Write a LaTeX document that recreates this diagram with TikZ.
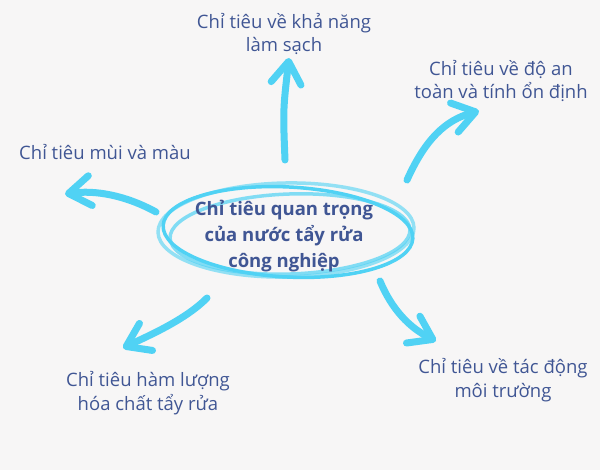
\documentclass[tikz,border=0pt]{standalone}
\usepackage{fontspec}
\setmainfont{Open Sans}
\usetikzlibrary{arrows.meta}
\definecolor{bgcol}{RGB}{247,246,246}
\definecolor{txtcol}{RGB}{64,86,148}
\definecolor{arrcol}{RGB}{80,210,244}
\tikzstyle{crit}=[text=txtcol,align=center,font=\fontsize{18.5}{23.5}\selectfont]
\tikzstyle{topic}=[text=txtcol,align=center,font=\bfseries\fontsize{18.5}{26}\selectfont]
\tikzstyle{arr}=[-{Straight Barb[length=22pt,width=30pt,round]},line width=7pt,
line cap=round,arrcol]
\tikzstyle{scribble}=[line width=3.5pt,arrcol]

\begin{document}
\begin{tikzpicture}[x=1pt,y=-1pt]
  \fill[bgcol] (0,0) rectangle (600,470);
  \useasboundingbox (0,0) rectangle (600,470);
  % Centre
  \draw[scribble] (288,232) ellipse [x radius=125, y radius=45, rotate=-3];
  \draw[scribble,opacity=0.7] (290,234) ellipse [x radius=120, y radius=40, rotate=2];
  \draw[scribble,opacity=0.6] (286,230) ellipse [x radius=128, y radius=47, rotate=1];
  \node[topic] (main) at (284,236) {Chỉ tiêu quan trọng\\của nước tẩy rửa\\công nghiệp};
  % Criteria
  \node[crit] (clean) at (284,34) {Chỉ tiêu về khả năng\\làm sạch};
  \node[crit] (safe) at (501,81) {Chỉ tiêu về độ an\\toàn và tính ổn định};
  \node[crit] (smell) at (105,152) {Chỉ tiêu mùi và màu};
  \node[crit] (chem) at (148,393) {Chỉ tiêu hàm lượng\\hóa chất tẩy rửa};
  \node[crit] (env) at (503,380) {Chỉ tiêu về tác động\\môi trường};
  % Arrows
  \coordinate (s1) at (285,160);
  \coordinate (t1) at (289,58);
  \coordinate (s2) at (407,180);
  \coordinate (t2) at (479,111);
  \coordinate (s3) at (156,212);
  \coordinate (t3) at (65,194);
  \coordinate (s4) at (207,298);
  \coordinate (t4) at (123,348);
  \coordinate (s5) at (380,281);
  \coordinate (t5) at (436,341);
  \draw[arr] (s1) .. controls (283,110) .. (t1);
  \draw[arr] (s2) .. controls (425,140) and (445,120) .. (t2);
  \draw[arr] (s3) .. controls (125,195) and (95,190) .. (t3);
  \draw[arr] (s4) .. controls (185,320) and (150,335) .. (t4);
  \draw[arr] (s5) .. controls (392,310) and (410,328) .. (t5);
\end{tikzpicture}
\end{document}
